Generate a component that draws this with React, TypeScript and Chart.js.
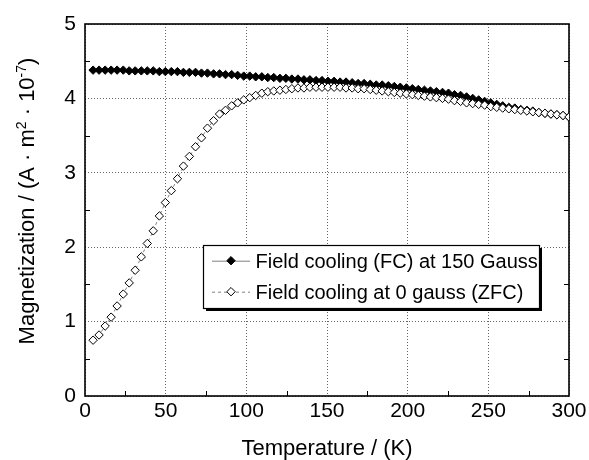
import React, { useEffect, useRef } from 'react';
import { Chart, registerables } from 'chart.js';

Chart.register(...registerables);

// Temperature (K) sampling points
const temperatures = [
  5.0, 8.7, 12.5, 16.2, 19.9, 23.7, 27.4, 31.1, 34.9, 38.6,
  42.3, 46.1, 49.8, 53.5, 57.3, 61.0, 64.7, 68.5, 72.2, 75.9,
  79.7, 83.4, 87.1, 90.9, 94.6, 98.4, 102.1, 105.8, 109.6, 113.3,
  117.0, 120.8, 124.5, 128.2, 132.0, 135.7, 139.4, 143.2, 146.9, 150.6,
  154.4, 158.1, 161.8, 165.6, 169.3, 173.0, 176.8, 180.5, 184.2, 188.0,
  191.7, 195.4, 199.2, 202.9, 206.6, 210.4, 214.1, 217.8, 221.6, 225.3,
  229.0, 232.8, 236.5, 240.3, 244.0, 247.7, 251.5, 255.2, 258.9, 262.7,
  266.4, 270.1, 273.9, 277.6, 281.3, 285.1, 288.8, 292.5, 296.3, 300.0,
];

// Field cooling (FC) at 150 Gauss
const fcMagnetization = [
  4.38, 4.38, 4.38, 4.38, 4.38, 4.38, 4.37, 4.37, 4.37, 4.37,
  4.37, 4.36, 4.36, 4.36, 4.36, 4.35, 4.35, 4.35, 4.34, 4.34,
  4.33, 4.33, 4.32, 4.32, 4.31, 4.30, 4.30, 4.29, 4.29, 4.28,
  4.28, 4.27, 4.27, 4.26, 4.26, 4.25, 4.25, 4.24, 4.24, 4.23,
  4.23, 4.22, 4.22, 4.21, 4.20, 4.20, 4.19, 4.18, 4.18, 4.17,
  4.16, 4.15, 4.14, 4.13, 4.12, 4.11, 4.10, 4.09, 4.08, 4.07,
  4.05, 4.04, 4.02, 4.00, 3.98, 3.96, 3.94, 3.92, 3.90, 3.88,
  3.87, 3.85, 3.84, 3.83, 3.81, 3.80, 3.79, 3.78, 3.77, 3.75,
];

// Field cooling at 0 gauss (ZFC)
const zfcMagnetization = [
  0.75, 0.82, 0.94, 1.06, 1.21, 1.37, 1.52, 1.69, 1.87, 2.05,
  2.22, 2.42, 2.60, 2.76, 2.92, 3.09, 3.22, 3.35, 3.47, 3.60,
  3.70, 3.79, 3.84, 3.90, 3.94, 3.98, 4.01, 4.04, 4.07, 4.09,
  4.10, 4.11, 4.12, 4.13, 4.14, 4.14, 4.15, 4.15, 4.15, 4.15,
  4.15, 4.15, 4.14, 4.14, 4.13, 4.13, 4.12, 4.11, 4.10, 4.09,
  4.08, 4.07, 4.06, 4.05, 4.04, 4.03, 4.02, 4.01, 4.00, 3.99,
  3.97, 3.96, 3.94, 3.93, 3.92, 3.91, 3.89, 3.88, 3.87, 3.86,
  3.85, 3.84, 3.83, 3.82, 3.81, 3.80, 3.79, 3.78, 3.77, 3.75,
];

const xMinorTicks = [25, 75, 125, 175, 225, 275];
const yMinorTicks = [0.5, 1.5, 2.5, 3.5, 4.5];
const legendLabels = ['Field cooling (FC) at 150 Gauss', 'Field cooling at 0 gauss (ZFC)'];
const xTitle = 'Temperature / (K)';
const yTitleParts = [
  { text: 'Magnetization / (A · m', sup: false },
  { text: '2', sup: true },
  { text: ' · 10', sup: false },
  { text: '-7', sup: true },
  { text: ')', sup: false },
];

const FONT = '"Liberation Sans", Arial, Helvetica, sans-serif';

function diamond(ctx: CanvasRenderingContext2D, x: number, y: number, r: number, fill: string) {
  ctx.beginPath();
  ctx.moveTo(x - r, y);
  ctx.lineTo(x, y - r);
  ctx.lineTo(x + r, y);
  ctx.lineTo(x, y + r);
  ctx.closePath();
  ctx.fillStyle = fill;
  ctx.fill();
  ctx.lineWidth = 1;
  ctx.strokeStyle = '#000';
  ctx.stroke();
}

const decorPlugin = {
  id: 'decor',
  beforeDatasetsDraw(chart: any) {
    const { ctx, chartArea: a, scales } = chart;
    const xs = scales.x;
    const ys = scales.y;
    ctx.save();
    ctx.strokeStyle = '#000';
    ctx.lineWidth = 1;
    ctx.beginPath();
    for (const v of xMinorTicks) {
      const px = Math.round(xs.getPixelForValue(v)) + 0.5;
      ctx.moveTo(px, a.bottom);
      ctx.lineTo(px, a.bottom - 5);
    }
    for (const v of yMinorTicks) {
      const py = Math.round(ys.getPixelForValue(v)) + 0.5;
      ctx.moveTo(a.left, py);
      ctx.lineTo(a.left + 5, py);
      ctx.moveTo(a.right, py);
      ctx.lineTo(a.right - 5, py);
    }
    ctx.stroke();
    ctx.lineWidth = 1.6;
    ctx.strokeRect(a.left, a.top, a.right - a.left, a.bottom - a.top);
    ctx.restore();
  },
  afterDatasetsDraw(chart: any) {
    const { ctx, chartArea: a } = chart;
    ctx.save();

    // Legend box
    const bx = 203.5, by = 245.5, bw = 336, bh = 63;
    ctx.fillStyle = '#000';
    ctx.fillRect(bx + 2.5, by + 2.5, bw, bh);
    ctx.fillStyle = '#fff';
    ctx.fillRect(bx, by, bw, bh);
    ctx.lineWidth = 1.2;
    ctx.strokeStyle = '#000';
    ctx.strokeRect(bx, by, bw, bh);

    const rows = [260.7, 291.7];
    const ds = chart.data.datasets;
    const order = [1, 0]; // FC, ZFC
    rows.forEach((ry, i) => {
      const d = ds[order[i]];
      ctx.beginPath();
      ctx.setLineDash(d.borderDash || []);
      ctx.strokeStyle = d.borderColor;
      ctx.lineWidth = 1;
      ctx.moveTo(212, ry + 0.5);
      ctx.lineTo(250, ry + 0.5);
      ctx.stroke();
      ctx.setLineDash([]);
      diamond(ctx, 231, ry, 4.2, d.pointBackgroundColor);
      ctx.fillStyle = '#000';
      ctx.font = `20px ${FONT}`;
      ctx.textAlign = 'left';
      ctx.textBaseline = 'alphabetic';
      ctx.fillText(legendLabels[i], 255.5, ry + 6.8);
    });

    // X title
    ctx.fillStyle = '#000';
    ctx.font = `22px ${FONT}`;
    ctx.textAlign = 'center';
    ctx.textBaseline = 'alphabetic';
    ctx.fillText(xTitle, (a.left + a.right) / 2, 455);

    // Y title (rotated, with superscripts)
    const mainFont = `22px ${FONT}`;
    const supFont = `14px ${FONT}`;
    let total = 0;
    const widths = yTitleParts.map((p) => {
      ctx.font = p.sup ? supFont : mainFont;
      const w = ctx.measureText(p.text).width;
      total += w;
      return w;
    });
    ctx.translate(33.5, 201);
    ctx.rotate(-Math.PI / 2);
    ctx.textAlign = 'left';
    let cx = -total / 2;
    yTitleParts.forEach((p, i) => {
      ctx.font = p.sup ? supFont : mainFont;
      ctx.fillText(p.text, cx, p.sup ? -8 : 0);
      cx += widths[i];
    });

    ctx.restore();
  },
};

export default function App() {
  const canvasRef = useRef<HTMLCanvasElement | null>(null);

  useEffect(() => {
    const canvas = canvasRef.current;
    if (!canvas) return;
    const fcData = temperatures.map((t, i) => ({ x: t, y: fcMagnetization[i] }));
    const zfcData = temperatures.map((t, i) => ({ x: t, y: zfcMagnetization[i] }));

    const chart = new Chart(canvas, {
      type: 'line',
      data: {
        datasets: [
          {
            label: legendLabels[1],
            data: zfcData,
            order: 0,
            borderColor: '#808080',
            borderWidth: 1,
            borderDash: [3, 3],
            pointStyle: 'rectRot',
            pointRadius: 4.2,
            pointBorderWidth: 1,
            pointBackgroundColor: '#ffffff',
            pointBorderColor: '#000000',
            tension: 0,
          } as any,
          {
            label: legendLabels[0],
            data: fcData,
            order: 1,
            borderColor: '#808080',
            borderWidth: 1,
            pointStyle: 'rectRot',
            pointRadius: 4.2,
            pointBorderWidth: 1,
            pointBackgroundColor: '#000000',
            pointBorderColor: '#000000',
            tension: 0,
          } as any,
        ],
      },
      options: {
        responsive: false,
        animation: false,
        events: [],
        layout: { padding: { top: 24, right: 20, bottom: 0, left: 0 } },
        plugins: {
          legend: { display: false },
          tooltip: { enabled: false },
          title: { display: false },
        },
        scales: {
          x: {
            type: 'linear',
            min: 0,
            max: 300,
            afterFit: (s: any) => {
              s.height = 64;
              s.paddingLeft = 0;
              s.paddingRight = 0;
            },
            ticks: {
              stepSize: 50,
              color: '#000',
              padding: 3,
              font: { family: FONT, size: 21 },
            },
            grid: { color: '#666', lineWidth: 1, drawTicks: false },
            border: { display: false, dash: [1, 2] },
          },
          y: {
            type: 'linear',
            min: 0,
            max: 5,
            afterFit: (s: any) => {
              s.width = 85;
            },
            ticks: {
              stepSize: 1,
              color: '#000',
              padding: 9,
              font: { family: FONT, size: 21 },
            },
            grid: { color: '#666', lineWidth: 1, drawTicks: false },
            border: { display: false, dash: [1, 2] },
          },
        },
      },
      plugins: [decorPlugin],
    });

    return () => chart.destroy();
  }, []);

  return (
    <div style={{ position: 'absolute', left: 0, top: 0, width: 589, height: 460, background: '#fff' }}>
      <canvas ref={canvasRef} width={589} height={460} style={{ display: 'block', width: 589, height: 460 }} />
    </div>
  );
}
